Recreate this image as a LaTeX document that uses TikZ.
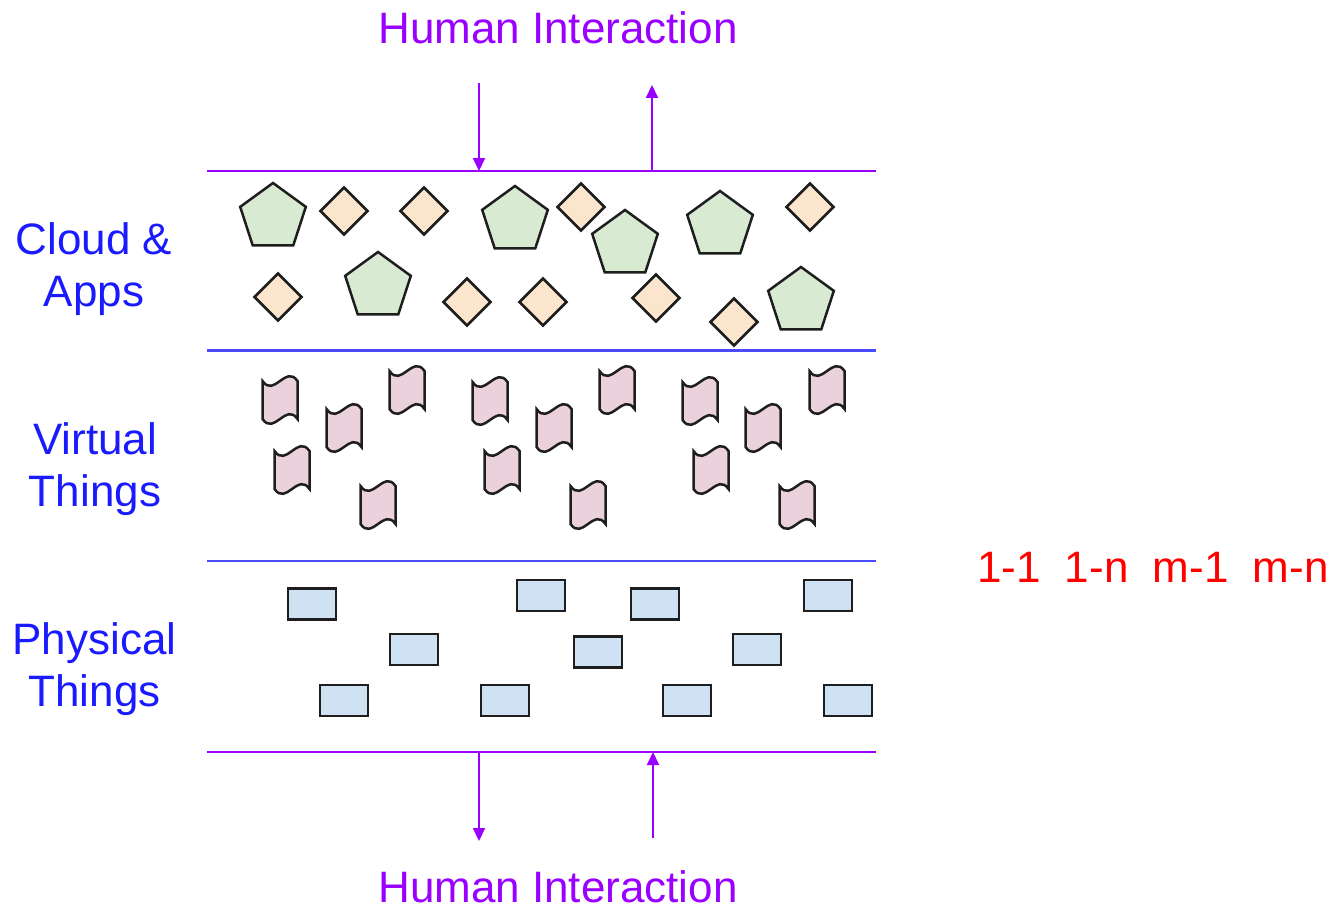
\documentclass[tikz,border=0pt]{standalone}
\usepackage{fontspec}
\setmainfont{Liberation Sans}
\usetikzlibrary{shapes.geometric,arrows.meta}
\definecolor{hpurple}{HTML}{9900FF}
\definecolor{lblue}{HTML}{4A4AFF}
\definecolor{tblue}{HTML}{1A1AFF}
\definecolor{tred}{HTML}{FF0000}
\definecolor{shapeline}{HTML}{1E1E1E}
\definecolor{pentfill}{HTML}{D9EAD3}
\definecolor{diafill}{HTML}{FCE5CD}
\definecolor{tapefill}{HTML}{EAD1DC}
\definecolor{rectfill}{HTML}{CFE2F3}
\begin{document}
\begin{tikzpicture}[x=1pt,y=-1pt,
  bigtext/.style={inner sep=0, font=\fontsize{44}{52}\selectfont},
  layerlabel/.style={bigtext, text=tblue, align=center, anchor=north},
  humanlabel/.style={bigtext, text=hpurple, anchor=base},
  purpleline/.style={draw=hpurple, line width=2.5},
  blueline/.style={draw=lblue, line width=2.5},
  hiarrow/.style={draw=hpurple, line width=2, -{Triangle[length=13,width=12]}},
  pent/.style={regular polygon, regular polygon sides=5, minimum size=69, inner sep=0, outer sep=0, draw=shapeline, fill=pentfill, line width=2.5},
  dia/.style={diamond, minimum width=47, minimum height=47, inner sep=0, outer sep=0, draw=shapeline, fill=diafill, line width=2.5},
  rbox/.style={rectangle, minimum width=48, minimum height=31, inner sep=0, outer sep=0, draw=shapeline, fill=rectfill, line width=2.5},
  tapestyle/.style={draw=shapeline, fill=tapefill, line width=2.5},
  pics/vtape/.style={code={
    \filldraw[tapestyle] (-17.5,-19) .. controls (-5.8,-2) and (5.8,-36) .. (17.5,-19)
      -- (17.5,19) .. controls (5.8,2) and (-5.8,36) .. (-17.5,19) -- cycle;
  }}
]
\useasboundingbox (0,0) rectangle (1334,907);

% layer boundary lines
\coordinate (l1w) at (207,171); \coordinate (l1e) at (876,171);
\coordinate (l2w) at (207,350.5); \coordinate (l2e) at (876,350.5);
\coordinate (l3w) at (207,561); \coordinate (l3e) at (876,561);
\coordinate (l4w) at (207,752); \coordinate (l4e) at (876,752);
\draw[purpleline] (l1w) -- (l1e);
\draw[blueline] (l2w) -- (l2e);
\draw[blueline] (l3w) -- (l3e);
\draw[purpleline] (l4w) -- (l4e);

% human interaction arrows
\coordinate (tin0) at (479,83);  \coordinate (tin1) at (479,171);
\coordinate (tout0) at (652,171); \coordinate (tout1) at (652,85);
\coordinate (bout0) at (479,752); \coordinate (bout1) at (479,841);
\coordinate (bin0) at (653,838);  \coordinate (bin1) at (653,752);
\draw[hiarrow] (tin0) -- (tin1);
\draw[hiarrow] (tout0) -- (tout1);
\draw[hiarrow] (bout0) -- (bout1);
\draw[hiarrow] (bin0) -- (bin1);

% texts
\node[humanlabel] (htop) at (558,44) {Human Interaction};
\node[humanlabel] (hbot) at (558,902) {Human Interaction};
\node[layerlabel] (lcloud) at (94,222) {Cloud \&\\Apps};
\node[layerlabel] (lvirt) at (95,422) {Virtual\\Things};
\node[layerlabel] (lphys) at (94.5,622) {Physical\\Things};
\node[bigtext, text=tred, anchor=base west] (card) at (977,582)
  {1-1\hspace{0.55em}1-n\hspace{0.55em}m-1\hspace{0.55em}m-n};

% cloud & apps
\foreach \i/\x/\y in {1/273/217.5, 2/515/220.5, 3/378/286.5, 4/625/244.5, 5/720/225.5, 6/801/301.5}
  \node[pent] (p\i) at (\x,\y) {};
\foreach \i/\x/\y in {1/344/211, 2/424/211, 3/581/207, 4/810/207, 5/278/297, 6/467/302, 7/543/302, 8/656/298, 9/734/322}
  \node[dia] (d\i) at (\x,\y) {};

% virtual things
\foreach \x/\y in {280/400, 407/390, 490/401, 617/390, 700/401, 827/390,
                   344/428, 554/428, 763/428,
                   292/470, 502/470, 711/470,
                   378/505, 588/505, 797/505}
  \pic at (\x,\y) {vtape};

% physical things
\foreach \i/\x/\y in {1/312/604, 2/541/595.5, 3/655/604, 4/828/595.5, 5/414/649.5, 6/598/652, 7/757/649.5, 8/344/700.5, 9/505/700.5, 10/687/700.5, 11/848/700.5}
  \node[rbox] (r\i) at (\x,\y) {};
\end{tikzpicture}
\end{document}
